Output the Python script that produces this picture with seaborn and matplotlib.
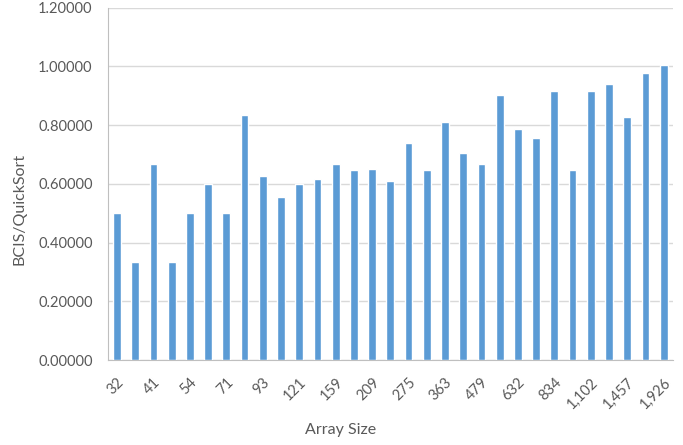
import matplotlib
matplotlib.use("Agg")
import matplotlib.pyplot as plt
import seaborn as sns
import pandas as pd

# array sizes (odd ones are hidden in the chart, estimated)
sizes = ["32", "36", "41", "47", "54", "62", "71", "81", "93", "106",
         "121", "139", "159", "182", "209", "240", "275", "316", "363", "417",
         "479", "550", "632", "726", "834", "959", "1,102", "1,267", "1,457", "1,675",
         "1,926"]
ratio = [0.500, 0.333, 0.667, 0.333, 0.500, 0.600, 0.500, 0.833, 0.625, 0.556,
         0.600, 0.615, 0.667, 0.647, 0.650, 0.609, 0.740, 0.647, 0.810, 0.704,
         0.667, 0.901, 0.785, 0.756, 0.916, 0.646, 0.916, 0.941, 0.826, 0.976,
         1.005]
yticks = [0.0, 0.2, 0.4, 0.6, 0.8, 1.0, 1.2]

df = pd.DataFrame({"size": sizes, "ratio": ratio})

sns.set_style("white")
plt.rcParams["font.family"] = ["Lato", "DejaVu Sans"]
text_color = "#595959"

fig, ax = plt.subplots(figsize=(6.83, 4.45), dpi=100)
fig.subplots_adjust(left=0.158, right=0.985, top=0.983, bottom=0.191)

sns.barplot(data=df, x="size", y="ratio", order=sizes, color="#5B9BD5",
            saturation=1, width=0.43, ax=ax, zorder=3)

ax.set_ylim(0, 1.2)
ax.set_yticks(yticks)
ax.set_yticklabels([f"{v:.5f}" for v in yticks], fontsize=10.5, color=text_color)
ax.yaxis.grid(True, color="#D9D9D9", linewidth=1, zorder=0)
ax.set_xlim(-0.5, len(sizes) - 0.5)

ticks = list(range(0, len(sizes), 2))
ax.set_xticks(ticks)
ax.set_xticklabels([sizes[i] for i in ticks], rotation=45, ha="right",
                   rotation_mode="anchor", fontsize=10.5, color=text_color)
ax.tick_params(axis="x", length=0, pad=11)
ax.tick_params(axis="y", length=0, pad=11)

for s in ["top", "right"]:
    ax.spines[s].set_visible(False)
ax.spines["left"].set_color("#BFBFBF")
ax.spines["bottom"].set_color("#BFBFBF")

ax.set_xlabel("")
ax.set_ylabel("")
fig.text(20 / 683, 1 - 209 / 445, "BCIS/QuickSort", rotation=90, ha="center",
         va="center", fontsize=11.5, color=text_color)
fig.text(341 / 683, 1 - 430 / 445, "Array Size", ha="center", va="center",
         fontsize=11.5, color=text_color)

fig.savefig("out.png", dpi=100)
